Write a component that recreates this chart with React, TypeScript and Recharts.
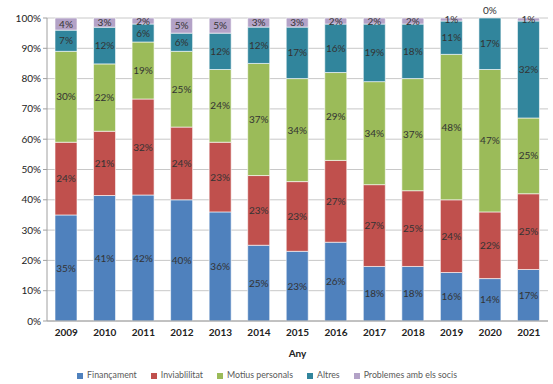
import { BarChart, Bar, XAxis, YAxis, CartesianGrid, Legend, LabelList } from "recharts";

const years = ["2009", "2010", "2011", "2012", "2013", "2014", "2015", "2016", "2017", "2018", "2019", "2020", "2021"];
const financament = [35, 41, 42, 40, 36, 25, 23, 26, 18, 18, 16, 14, 17];
const inviabilitat = [24, 21, 32, 24, 23, 23, 23, 27, 27, 25, 24, 22, 25];
const motius = [30, 22, 19, 25, 24, 37, 34, 29, 34, 37, 48, 47, 25];
const altres = [7, 12, 6, 6, 12, 12, 17, 16, 19, 18, 11, 17, 32];
const socis = [4, 3, 2, 5, 5, 3, 3, 2, 2, 2, 1, 0, 1];
const yTicks = [0, 0.1, 0.2, 0.3, 0.4, 0.5, 0.6, 0.7, 0.8, 0.9, 1];

const series = [
    { key: "fin", name: "Finançament", color: "#4F81BD" },
    { key: "inv", name: "Inviablilitat", color: "#C0504D" },
    { key: "mot", name: "Motius personals", color: "#9BBB59" },
    { key: "alt", name: "Altres", color: "#31859C" },
    { key: "soc", name: "Problemes amb els socis", color: "#B3A2C7" },
];

const data = years.map((year, i) => ({
    year,
    fin: financament[i],
    inv: inviabilitat[i],
    mot: motius[i],
    alt: altres[i],
    soc: socis[i],
}));

const font = "Lato, 'Open Sans', sans-serif";

// a zero-height top segment gets no label of its own, so draw it above the bar
const ZeroTopLabel = (props: any) => {
    const { x, y, width, index } = props;
    if (socis[index] !== 0) return null;
    return (
        <text x={x + width / 2} y={y - 4} textAnchor="middle" fontSize={10} fill="#333" fontFamily={font}>
            {`${socis[index]}%`}
        </text>
    );
};

const App = () => {
    return (
        <div style={{ position: "fixed", left: 0, top: 0, width: 553, height: 384, background: "#fff", fontFamily: font }}>
            <BarChart
                width={553}
                height={384}
                data={data}
                stackOffset="expand"
                barSize={22}
                margin={{ top: 18, right: 5, bottom: 0, left: 0 }}
            >
                <CartesianGrid vertical={false} stroke="#c8c8c8" />
                <XAxis
                    dataKey="year"
                    axisLine={{ stroke: "#a0a0a0" }}
                    tickLine={false}
                    height={45}
                    tick={{ fontSize: 10, fontWeight: 700, fill: "#222", fontFamily: font }}
                    label={{ value: "Any", position: "insideBottom", offset: 9, fontSize: 10, fontWeight: 700, fill: "#222", fontFamily: font }}
                />
                <YAxis
                    ticks={yTicks}
                    domain={[0, 1]}
                    width={47}
                    interval={0}
                    axisLine={{ stroke: "#a0a0a0" }}
                    tickLine={{ stroke: "#a0a0a0" }}
                    tickSize={4}
                    tickFormatter={(v: number) => `${Math.round(v * 100)}%`}
                    tick={{ fontSize: 10, fill: "#222", fontFamily: font }}
                />
                <Legend
                    verticalAlign="bottom"
                    iconType="square"
                    iconSize={6}
                    height={18}
                    itemSorter={(item: any) => series.findIndex((s) => s.key === item.dataKey)}
                    wrapperStyle={{ fontSize: 8.8, color: "#595959", fontFamily: font, transform: "translateY(3px)" }}
                    formatter={(value: string) => <span style={{ color: "#595959", marginRight: 4 }}>{value}</span>}
                />
                {series.map((s) => (
                    <Bar
                        key={s.key}
                        dataKey={s.key}
                        name={s.name}
                        stackId="a"
                        fill={s.color}
                        stroke="#ffffff"
                        strokeWidth={0.6}
                        isAnimationActive={false}
                    >
                        <LabelList
                            dataKey={s.key}
                            position="center"
                            formatter={(v: number) => (v === 0 ? "" : `${v}%`)}
                            style={{ fontSize: 10, fill: "#333", fontFamily: font }}
                        />
                        {s.key === "alt" && <LabelList dataKey="alt" content={<ZeroTopLabel />} />}
                    </Bar>
                ))}
            </BarChart>
        </div>
    );
};

export default App;
